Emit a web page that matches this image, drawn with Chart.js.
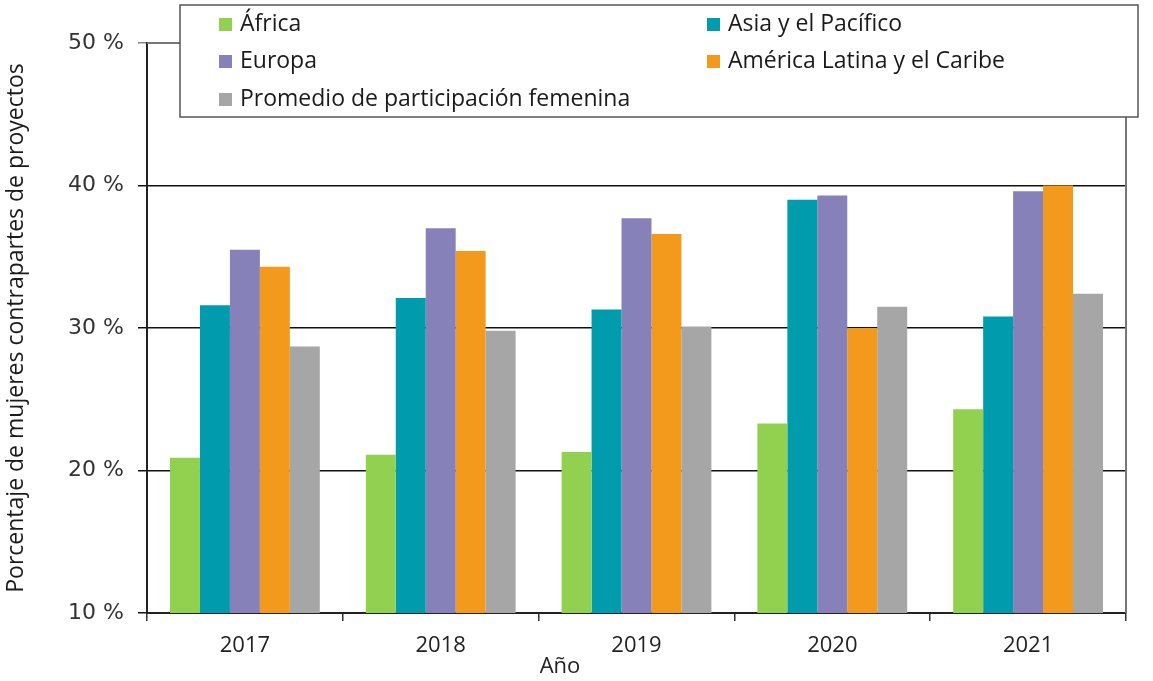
<!DOCTYPE html>
<html>
<head>
<meta charset="utf-8">
<script src="https://cdn.jsdelivr.net/npm/chart.js@4/dist/chart.umd.min.js"></script>
<style>
  html, body { margin: 0; padding: 0; background: #fff; }
  #wrap { width: 1153px; height: 681px; }
</style>
</head>
<body>
<div id="wrap"><canvas id="graph1" width="1153" height="681"></canvas></div>
<script>
// data
const years = ['2017', '2018', '2019', '2020', '2021'];
const africa = [20.9, 21.1, 21.3, 23.3, 24.3];
const asia = [31.6, 32.1, 31.3, 39.0, 30.8];
const europa = [35.5, 37.0, 37.7, 39.3, 39.6];
const latam = [34.3, 35.4, 36.6, 30.0, 40.0];
const promedio = [28.7, 29.8, 30.1, 31.5, 32.4];
const yTicks = [10, 20, 30, 40, 50];

const seriesNames = ['África', 'Asia y el Pacífico', 'Europa', 'América Latina y el Caribe', 'Promedio de participación femenina'];
const colors = ['#92d050', '#009bad', '#8682b9', '#f39a1c', '#a6a6a6'];

// legend box drawn over the plot, like the original
const boxLegend = {
  id: 'boxLegend',
  afterDraw(chart) {
    const c = chart.ctx;
    const a = chart.chartArea;
    c.save();
    // right and top frame
    c.strokeStyle = '#777';
    c.lineWidth = 2;
    c.beginPath();
    c.moveTo(a.left, a.top);
    c.lineTo(a.right, a.top);
    c.lineTo(a.right, a.bottom);
    c.stroke();

    c.fillStyle = '#fff';
    c.fillRect(180, 5, 958, 112);
    c.strokeStyle = '#555';
    c.lineWidth = 1.5;
    c.strokeRect(180, 5, 958, 112);

    const cols = [219, 707];
    const rows = [24, 61, 99];
    c.font = '23px "Open Sans"';
    c.textBaseline = 'middle';
    chart.data.datasets.forEach((ds, i) => {
      const x = cols[i % 2];
      const y = rows[Math.floor(i / 2)];
      c.fillStyle = ds.backgroundColor;
      c.fillRect(x, y - 6, 13, 13);
      c.fillStyle = '#1a1a1a';
      c.fillText(ds.label, x + 21, y);
    });

    // x axis title
    c.font = '22px "Open Sans"';
    c.textAlign = 'center';
    c.fillStyle = '#222';
    c.fillText('Año', 560, 667);
    c.restore();
  }
};

const ctx = document.getElementById('graph1').getContext('2d');

const data = {
  labels: years,
  datasets: [africa, asia, europa, latam, promedio].map((vals, i) => ({
    label: seriesNames[i],
    data: vals,
    backgroundColor: colors[i],
    borderWidth: 0
  }))
};

const options = {
  responsive: false,
  animation: false,
  layout: { padding: { left: 3, right: 27, top: 43, bottom: 0 } },
  datasets: { bar: { categoryPercentage: 0.765, barPercentage: 1 } },
  plugins: {
    legend: { display: false },
    tooltip: { enabled: false }
  },
  scales: {
    x: {
      offset: true,
      grid: {
        offset: true,
        drawOnChartArea: false,
        color: '#333',
        lineWidth: 1.5,
        tickLength: 8
      },
      border: { color: '#222', width: 2 },
      ticks: { color: '#222', font: { family: 'Open Sans', size: 22 }, padding: 12 },
      afterFit(scale) { scale.height = 68; }
    },
    y: {
      min: 10,
      max: 50,
      afterBuildTicks(scale) { scale.ticks = yTicks.map(v => ({ value: v })); },
      grid: {
        color: (c) => (c.tick && c.tick.value === 50 ? '#888' : '#111'),
        lineWidth: 1.5,
        tickLength: 9
      },
      border: { color: '#222', width: 2 },
      ticks: {
        color: '#333',
        font: { family: 'DejaVu Sans', size: 22 },
        padding: 14,
        callback: (v) => v + ' %'
      },
      title: {
        display: true,
        text: 'Porcentaje de mujeres contrapartes de proyectos',
        color: '#1a1a1a',
        font: { family: 'Open Sans', size: 23 },
        padding: { top: 0, bottom: 2 }
      },
      afterFit(scale) { scale.width = 144; }
    }
  }
};

const chart = new Chart(ctx, { type: 'bar', data: data, options: options, plugins: [boxLegend] });
</script>
</body>
</html>
